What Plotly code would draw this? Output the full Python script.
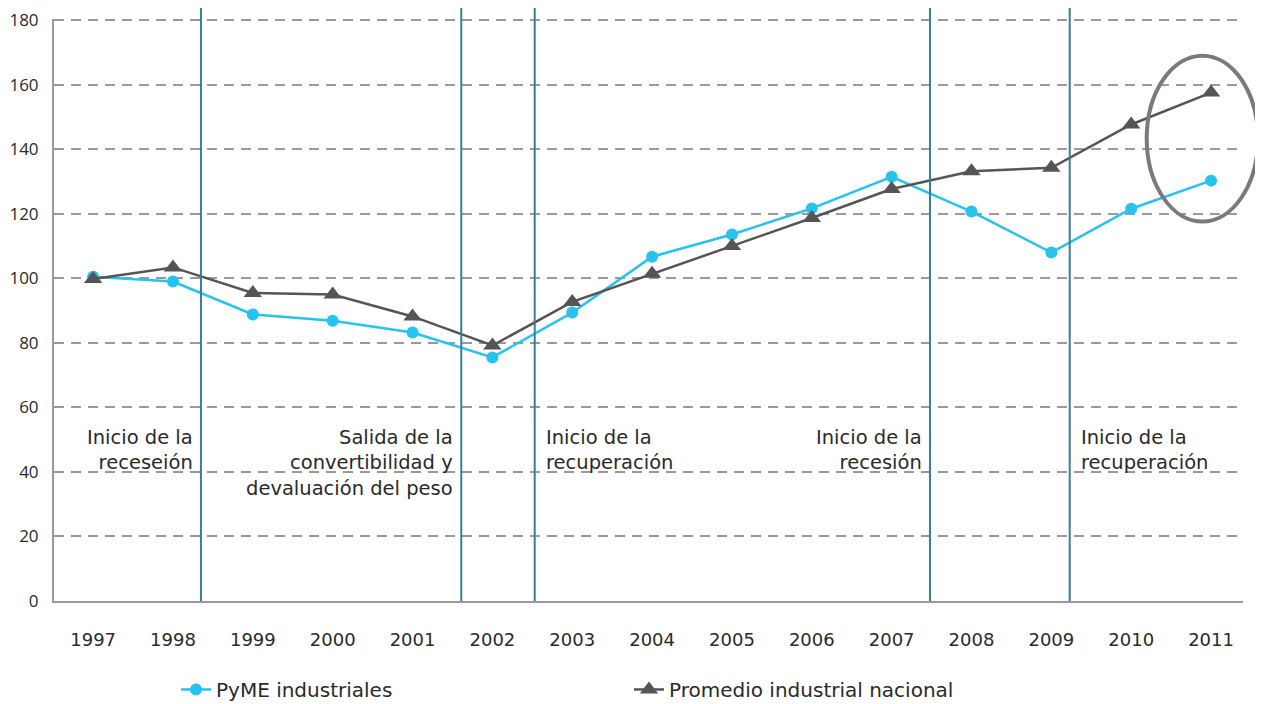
import plotly.graph_objects as go

years = [1997, 1998, 1999, 2000, 2001, 2002, 2003, 2004, 2005, 2006, 2007, 2008, 2009, 2010, 2011]
pyme = [100.5, 99.0, 88.8, 86.9, 83.2, 75.5, 89.4, 106.7, 113.6, 121.7, 131.5, 120.7, 108.0, 121.6, 130.3]
promedio = [99.8, 103.4, 95.5, 95.0, 88.2, 79.2, 92.7, 101.4, 110.0, 118.7, 127.7, 133.2, 134.3, 147.7, 157.6]

# period boundaries (fractional year) and their captions
event_x = [1998.35, 2001.61, 2002.53, 2007.48, 2009.23]
event_text = [
    "Inicio de la<br>receseión",
    "Salida de la<br>convertibilidad y<br>devaluación del peso",
    "Inicio de la<br>recuperación",
    "Inicio de la<br>recesión",
    "Inicio de la<br>recuperación",
]
event_side = ["left", "left", "right", "left", "right"]

y_ticks = [0, 20, 40, 60, 80, 100, 120, 140, 160, 180]

C_BLUE = "#27c2ee"
C_DARK = "#555557"
C_TEAL = "#3b7c96"
C_GRID = "#9a9a9c"
C_TEXT = "#2a2a2a"
FONT = "DejaVu Sans, sans-serif"

fig = go.Figure()

fig.add_trace(go.Scatter(
    x=years, y=pyme, name="PyME industriales",
    mode="lines+markers",
    line=dict(color=C_BLUE, width=2.5),
    marker=dict(symbol="circle", size=12, color=C_BLUE),
))
fig.add_trace(go.Scatter(
    x=years, y=promedio, name="Promedio industrial nacional",
    mode="lines+markers",
    line=dict(color=C_DARK, width=2.5),
    marker=dict(symbol="triangle-up", size=16, color=C_DARK),
))

shapes = []
for ex in event_x:
    shapes.append(dict(type="line", xref="x", yref="paper",
                       x0=ex, x1=ex, y0=0, y1=1.025,
                       line=dict(color=C_TEAL, width=2), layer="above"))

# highlight ellipse around 2011
shapes.append(dict(type="circle", xref="paper", yref="paper",
                   x0=0.919, x1=1.0126, y0=0.652, y1=0.937,
                   line=dict(color="#7a7a7c", width=4)))

annotations = []
for ex, txt, side in zip(event_x, event_text, event_side):
    annotations.append(dict(
        x=ex, y=55, xref="x", yref="y", text=txt, showarrow=False,
        xanchor="right" if side == "left" else "left", yanchor="top",
        align="right" if side == "left" else "left",
        xshift=-6 if side == "left" else 9,
        font=dict(family=FONT, size=19.5, color=C_TEXT),
    ))

# page body adds an 8px margin, so the figure is sized 8px smaller
fig.update_layout(
    width=1255, height=696,
    paper_bgcolor="white", plot_bgcolor="white",
    margin=dict(l=46, r=20, t=11, b=103, autoexpand=False),
    font=dict(family=FONT, size=17, color=C_TEXT),
    shapes=shapes, annotations=annotations,
    showlegend=True,
    legend=dict(orientation="h", x=0.1026, y=-0.152, xanchor="left", yanchor="middle",
                entrywidth=408, font=dict(family=FONT, size=20, color=C_TEXT)),
)
fig.update_xaxes(
    range=[1996.51, 2011.4], tickvals=years, ticktext=[str(y) for y in years],
    showgrid=False, zeroline=False, automargin=False,
    showline=True, linecolor=C_GRID, linewidth=2,
    ticks="", ticklabelstandoff=21,
    tickfont=dict(family=FONT, size=18, color=C_TEXT),
)
fig.update_yaxes(
    range=[0, 180.4], tickvals=y_ticks, ticktext=[str(v) for v in y_ticks],
    showgrid=True, gridcolor=C_GRID, gridwidth=2, griddash="10px,7px",
    zeroline=False, showline=True, linecolor=C_GRID, linewidth=2, automargin=False,
    ticks="", ticklabelstandoff=10,
    tickfont=dict(family="Open Sans, sans-serif", size=17, color=C_TEXT),
)

fig.write_html("out.html")
